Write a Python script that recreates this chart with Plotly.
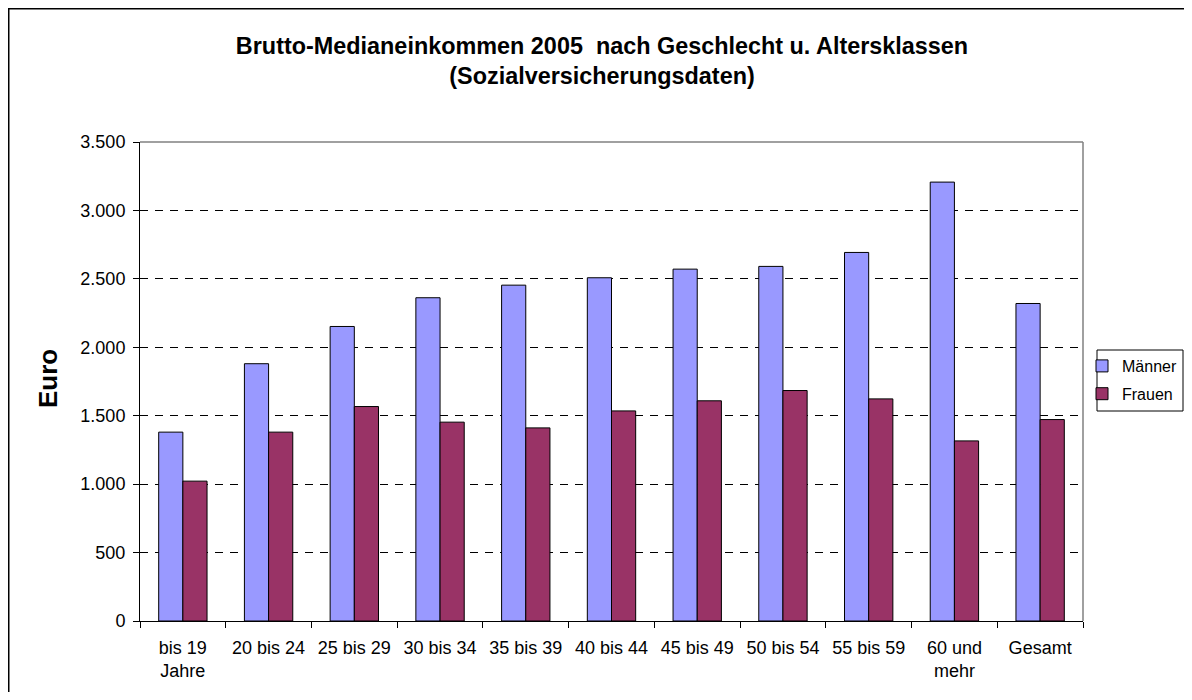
import plotly.graph_objects as go

categories = ["bis 19<br>Jahre", "20 bis 24", "25 bis 29", "30 bis 34", "35 bis 39",
              "40 bis 44", "45 bis 49", "50 bis 54", "55 bis 59", "60 und<br>mehr", "Gesamt"]
maenner = [1380, 1880, 2152, 2362, 2454, 2508, 2571, 2591, 2693, 3207, 2320]
frauen = [1022, 1380, 1567, 1453, 1411, 1535, 1609, 1684, 1623, 1316, 1472]
y_ticks = [0, 500, 1000, 1500, 2000, 2500, 3000, 3500]

FONT = "Arial, Liberation Sans, sans-serif"

# the page body adds an 8px margin on every side; keep the figure inside the
# window so that no scrollbars appear
OFF = 8
W, H = 1192 - 2 * OFF, 700 - 2 * OFF
L, R, T, B = 140 - OFF, 1083 - OFF, 142 - OFF, 621 - OFF  # plot area bounds


def px_x(p):
    return (p - OFF - L) / (R - L)


def px_y(p):
    return (B - (p - OFF)) / (B - T)


fig = go.Figure()
fig.add_trace(go.Bar(name="Männer", x=categories, y=maenner, legendgroup="m",
                     marker=dict(color="#9999FF", line=dict(color="#000000", width=1))))
fig.add_trace(go.Bar(name="Frauen", x=categories, y=frauen, legendgroup="f",
                     marker=dict(color="#993366", line=dict(color="#000000", width=1))))

fig.update_layout(
    width=W, height=H,
    margin=dict(l=L, r=W - R, t=T, b=H - B, autoexpand=False),
    paper_bgcolor="white", plot_bgcolor="white",
    separators=",.",
    barmode="group", bargap=0.436, bargroupgap=0,
    font=dict(family=FONT, color="#000000"),
    title=dict(text="Brutto-Medianeinkommen 2005  nach Geschlecht u. Altersklassen<br>(Sozialversicherungsdaten)",
               x=px_x(602), xref="paper", xanchor="center",
               y=1 - 46 / H, yref="container", yanchor="middle",
               font=dict(family=FONT, size=23.4, color="#000000", weight="bold")),
    showlegend=True,
    legend=dict(x=px_x(1082), xanchor="left", y=px_y(380), yanchor="middle",
                borderwidth=0, bgcolor="rgba(0,0,0,0)",
                font=dict(family=FONT, size=16), itemwidth=30,
                traceorder="grouped", tracegroupgap=4),
    xaxis=dict(showline=True, linecolor="#000000", linewidth=1,
               ticks="outside", ticklen=6, tickcolor="#000000", tickson="boundaries",
               tickfont=dict(family=FONT, size=18), ticklabelstandoff=10,
               showgrid=False, fixedrange=True),
    yaxis=dict(range=[0, 3500], tickvals=y_ticks, tickformat=",d",
               showline=True, linecolor="#000000", linewidth=1,
               ticks="outside", ticklen=6, tickcolor="#000000",
               tickfont=dict(family=FONT, size=18), ticklabelstandoff=4,
               showgrid=True, gridcolor="#000000", gridwidth=1, griddash="8px,7px",
               zeroline=False, fixedrange=True),
)

# Plot-area border (gray top/right)
fig.add_shape(type="line", xref="paper", yref="paper", x0=0, x1=1, y0=1, y1=1,
              line=dict(color="#808080", width=1.5), layer="above")
fig.add_shape(type="line", xref="paper", yref="paper", x0=1, x1=1, y0=0, y1=1,
              line=dict(color="#808080", width=1.5), layer="above")

# Legend frame
fig.add_shape(type="rect", xref="paper", yref="paper",
              x0=px_x(1097), x1=px_x(1183), y0=px_y(411), y1=px_y(350),
              line=dict(color="#000000", width=1), fillcolor="white", layer="above")

# Outer chart border (top and left visible)
fig.add_shape(type="line", xref="paper", yref="paper", x0=px_x(8), x1=px_x(1200),
              y0=px_y(8.75), y1=px_y(8.75), line=dict(color="#000000", width=1.5), layer="above")
fig.add_shape(type="line", xref="paper", yref="paper", x0=px_x(8.75), x1=px_x(8.75),
              y0=px_y(8), y1=px_y(710), line=dict(color="#000000", width=1.5), layer="above")

fig.add_annotation(text="<b>Euro</b>", xref="paper", yref="paper",
                   x=px_x(48), y=px_y(379), xanchor="center", yanchor="middle",
                   textangle=-90, showarrow=False,
                   font=dict(family=FONT, size=26, color="#000000"))

fig.write_html("out.html", config={"displayModeBar": False})
